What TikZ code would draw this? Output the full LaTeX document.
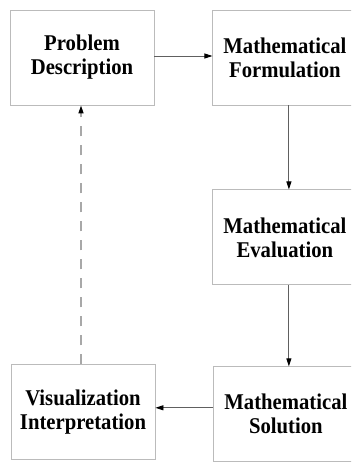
\documentclass[tikz,border=0pt]{standalone}
\usepackage{fontspec}
\setmainfont{Liberation Serif}[FakeStretch=0.92]
\usepackage{tikz}
\usetikzlibrary{arrows.meta,positioning,calc}
\definecolor{boxgray}{HTML}{BBBBBB}
\definecolor{linegray}{HTML}{606060}
\definecolor{dashgray}{HTML}{A8A8A8}

\begin{document}
\begin{tikzpicture}[x=1pt,y=-1pt,node distance=84pt and 58pt,every node/.style={font=\bfseries\fontsize{22.5}{24}\selectfont,align=center},stage/.style={draw=boxgray,line width=0.9pt,minimum width=144pt,minimum height=95pt,inner sep=0pt},flow/.style={draw=linegray,line width=0.9pt,-{Triangle[length=8pt,width=5pt,color=black]}},back/.style={draw=dashgray,line width=1.4pt,dash pattern=on 10pt off 9pt,-{Triangle[length=8pt,width=5pt,color=black]}}]
\clip (0,0) rectangle (351,462);
\useasboundingbox (0,0) rectangle (351,462);
\node[stage] (problem) at (82,57.5) {Problem\\Description};
\node[stage,right=of problem] (formul) {Mathematical\\Formulation};
\node[stage,below=of formul] (evalu) {Mathematical\\Evaluation};
\node[stage,below=81pt of evalu,xshift=1pt] (solut) {Mathematical\\Solution};
\node[stage,left=58pt of solut,yshift=2pt] (visual) {Visualization\\Interpretation};
\draw[flow] ([yshift=1.5pt]problem.east)--([yshift=1.5pt]problem.east -| formul.west);
\draw[flow] ([xshift=4pt]formul.south)--([xshift=4pt]formul.south |- evalu.north);
\draw[flow] ([xshift=4pt]evalu.south)--([xshift=4pt]evalu.south |- solut.north);
\draw[flow] ([yshift=6.5pt]solut.west)--([yshift=6.5pt]solut.west -| visual.east);
\draw[back] ([xshift=-1pt]problem.south |- visual.north)--([xshift=-1pt]problem.south);
\end{tikzpicture}
\end{document}
